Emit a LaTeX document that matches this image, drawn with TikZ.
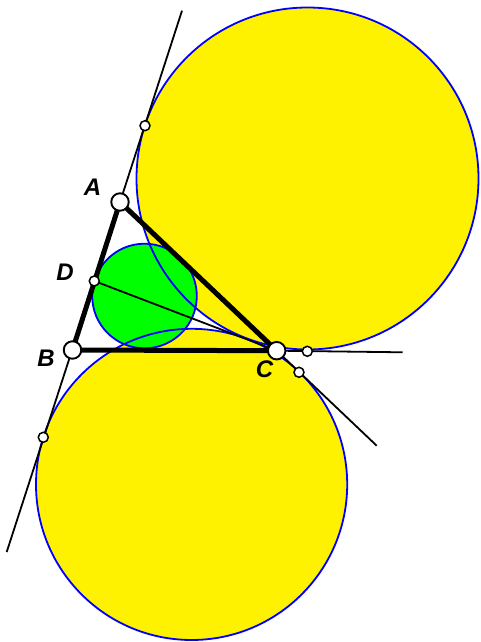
\documentclass[tikz,border=0pt]{standalone}
\usepackage{fontspec}
\setmainfont{Liberation Sans}
\begin{document}
\begin{tikzpicture}[x=1pt,y=-1pt,
  circ/.style={draw=blue,line width=1.8pt},
  thin line/.style={draw=black,line width=1.8pt},
  side/.style={draw=black,line width=5pt},
  bigpt/.style={circle,draw=black,fill=white,line width=1.9pt,minimum size=17.5pt,inner sep=0pt},
  smallpt/.style={circle,draw=black,fill=white,line width=1.5pt,minimum size=10pt,inner sep=0pt},
  lab/.style={font=\fontsize{24}{24}\selectfont\bfseries\itshape}]
\useasboundingbox (0,0) rectangle (480,642);
% points
\coordinate (A) at (120,202);
\coordinate (B) at (72.5,350);
\coordinate (C) at (276.7,350.7);
\coordinate (D) at (94.3,281);
\coordinate (L1) at (182,10.7);
\coordinate (L2) at (6.7,552);
\coordinate (E1) at (402.7,352.3);
\coordinate (E2) at (376.7,445.7);
\coordinate (T1) at (145,125.7);
\coordinate (T2) at (307.3,351.3);
\coordinate (T3) at (43.3,437.3);
\coordinate (T4) at (299,372.3);
\coordinate (O1) at (307.5,178.5);
\coordinate (O2) at (191.6,484.4);
\coordinate (O3) at (144.5,296);
% fills
\fill[yellow] (O1) circle (171pt);
\fill[yellow] (O2) circle (155.6pt);
\fill[green] (O3) circle (52.3pt);
% outlines
\draw[circ] (O1) circle (171pt);
\draw[circ] (O2) circle (155.6pt);
\draw[circ] (O3) circle (52.3pt);
% thin lines
\draw[thin line] (L1) -- (L2);
\draw[thin line] (C) -- (E1);
\draw[thin line] (C) -- (E2);
\draw[thin line] (D) -- (C);
% triangle
\draw[side,line join=round] (A) -- (B) -- (C) -- cycle;
% markers
\node[smallpt] (mT1) at (T1) {};
\node[smallpt] (mT2) at (T2) {};
\node[smallpt] (mT3) at (T3) {};
\node[smallpt] (mT4) at (T4) {};
\node[smallpt] (mD) at (D) {};
\node[bigpt] (mA) at (A) {};
\node[bigpt] (mB) at (B) {};
\node[bigpt] (mC) at (C) {};
% labels
\node[lab] (lA) at (92.5,187.5) {A};
\node[lab] (lB) at (46,358) {B};
\node[lab] (lC) at (264.5,369) {C};
\node[lab] (lD) at (65,272.5) {D};
\end{tikzpicture}
\end{document}
